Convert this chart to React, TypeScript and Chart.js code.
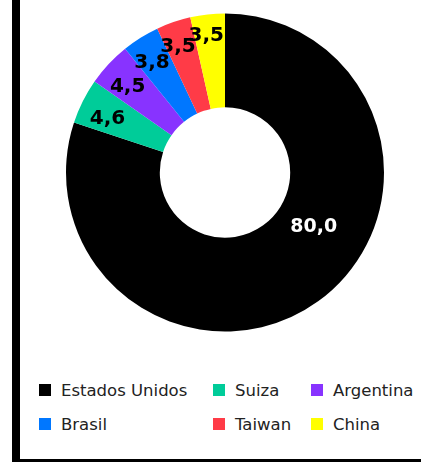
import React, { useEffect, useRef } from "react";
import { Chart, registerables } from "chart.js";

Chart.register(...registerables);

const categories = ["Estados Unidos", "Suiza", "Argentina", "Brasil", "Taiwan", "China"];
const values = [80.0, 4.6, 4.5, 3.8, 3.5, 3.5];
const colors = ["#000000", "#00CC99", "#8833FF", "#0077FF", "#FF3B47", "#FFFF00"];
const valueLabels = values.map((v) => v.toFixed(1).replace(".", ","));

const arcLabels = {
  id: "arcLabels",
  afterDatasetsDraw(chart: any) {
    const meta = chart.getDatasetMeta(0);
    const ctx = chart.ctx;
    meta.data.forEach((arc: any, i: number) => {
      const p = arc.getProps(["x", "y", "startAngle", "endAngle", "innerRadius", "outerRadius"], true);
      const span = p.endAngle - p.startAngle;
      const text = valueLabels[i];
      ctx.save();
      ctx.textAlign = "center";
      ctx.textBaseline = "middle";
      let x: number;
      let y: number;
      if (span > Math.PI) {
        ctx.font = "bold 19px 'DejaVu Sans'";
        ctx.fillStyle = "#ffffff";
        const a = p.startAngle + span * 0.42;
        const r = p.innerRadius + (p.outerRadius - p.innerRadius) * 0.41;
        x = p.x + Math.cos(a) * r;
        y = p.y + Math.sin(a) * r;
      } else {
        ctx.font = "bold 20px 'DejaVu Sans'";
        ctx.fillStyle = "#000000";
        const a = p.startAngle + span / 2 - 0.025;
        const c = Math.cos(a);
        const s = Math.sin(a);
        const W = ctx.measureText(text).width / 2 + 4;
        const H = 13;
        const r = p.outerRadius - 4 - Math.abs(c) * W - Math.abs(s) * H;
        x = p.x + c * r;
        y = p.y + s * r;
      }
      ctx.fillText(text, x, y + 1);
      ctx.restore();
    });
  },
};

export default function App() {
  const ref = useRef<HTMLCanvasElement | null>(null);

  useEffect(() => {
    if (!ref.current) return;
    const chart = new Chart(ref.current, {
      type: "doughnut",
      data: {
        labels: categories,
        datasets: [
          {
            data: values,
            backgroundColor: colors,
            borderWidth: 0,
          },
        ],
      },
      options: {
        responsive: false,
        animation: false,
        cutout: "41%",
        layout: { padding: { left: 66, top: 13, right: 37, bottom: 13 } },
        plugins: {
          legend: { display: false },
          tooltip: { enabled: false },
        },
      },
      plugins: [arcLabels],
    });
    return () => chart.destroy();
  }, []);

  return (
    <div>
      <div
        style={{
          position: "absolute",
          left: 12,
          top: 0,
          width: 409,
          height: 462,
          borderLeft: "8px solid #000",
          borderBottom: "3px solid #000",
          boxSizing: "border-box",
        }}
      />
      <canvas
        ref={ref}
        width={421}
        height={345}
        style={{ position: "absolute", left: 0, top: 0, width: 421, height: 345 }}
      />
      <div
        style={{
          position: "absolute",
          left: 39,
          top: 373,
          display: "grid",
          gridTemplateColumns: "174px 98px auto",
          gridAutoRows: "34px",
          alignItems: "center",
          fontFamily: "'DejaVu Sans', sans-serif",
          fontSize: 16.5,
          color: "#222",
        }}
      >
        {categories.map((c, i) => (
          <div key={c} style={{ display: "flex", alignItems: "center", whiteSpace: "nowrap" }}>
            <span
              style={{
                display: "inline-block",
                width: 12,
                height: 12,
                background: colors[i],
                marginRight: 10,
              }}
            />
            <span>{c}</span>
          </div>
        ))}
      </div>
    </div>
  );
}
